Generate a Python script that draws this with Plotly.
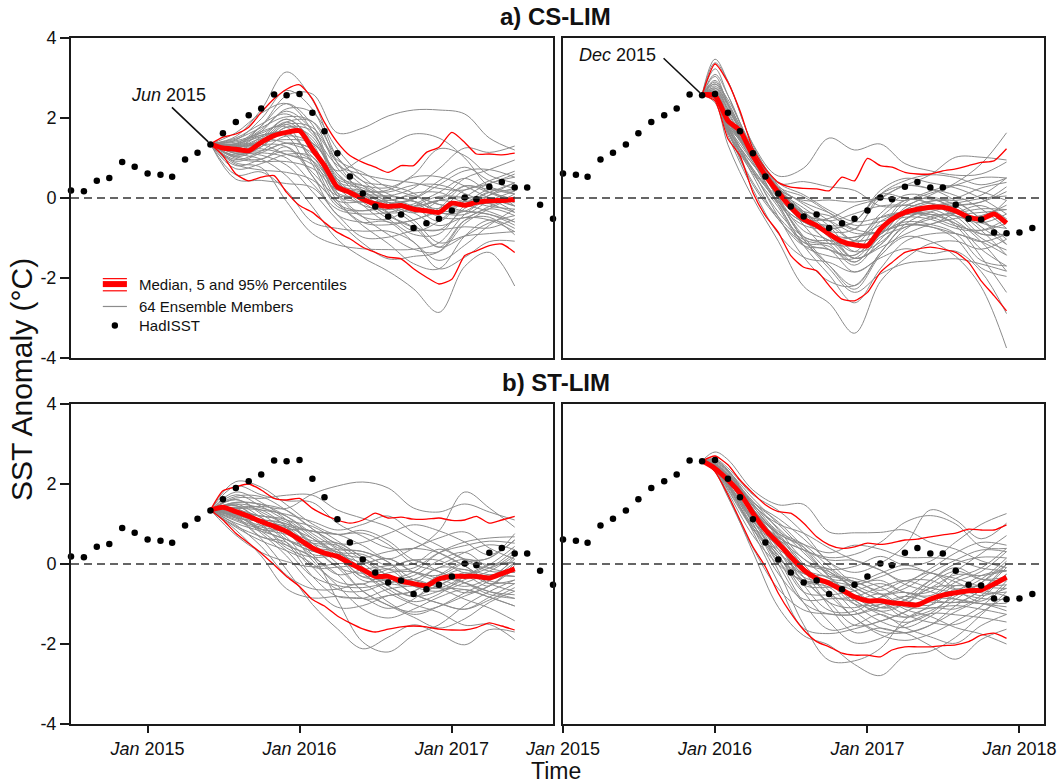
import pandas as pd
import plotly.graph_objects as go

W, H = 1061, 784
FONT = "Liberation Sans, Arial, Helvetica, sans-serif"
GRAY = "rgb(140,140,140)"
RED = "#ff0000"
INK = "#1a1a1a"

# ---------------------------------------------------------------- observations
# HadISST monthly SST anomaly (degC), Jul 2014 .. Feb 2018
hadisst_start = "2014-07-01"
hadisst = [0.19, 0.17, 0.43, 0.50, 0.90, 0.78, 0.61, 0.58, 0.53, 0.96, 1.13, 1.34,
           1.62, 1.90, 2.07, 2.24, 2.59, 2.57, 2.60, 2.13, 1.67, 1.12, 0.54, 0.11,
           -0.21, -0.46, -0.41, -0.75, -0.63, -0.52, -0.31, 0.01, -0.03, 0.28, 0.40, 0.26,
           0.26, -0.17, -0.52, -0.54, -0.86, -0.88, -0.86, -0.75]

# forecast initial months and lead times (months)
init_jun = "2015-06-01"
init_dec = "2015-12-01"
leads_monthly = list(range(25))
member_leads_jun = [0, 2, 4, 6, 8, 10, 12, 14, 16, 18, 20, 22, 24]
member_leads_dec = [0, 1, 2, 4, 6, 8, 10, 12, 14, 16, 18, 20, 22, 24]

# ---------------------------------------------------------------- a) CS-LIM, Jun 2015
cs_jun_median = [1.35, 1.25, 1.22, 1.18, 1.39, 1.56, 1.64, 1.68, 1.22, 0.81, 0.27, 0.14, -0.03,
                 -0.15, -0.21, -0.19, -0.28, -0.32, -0.36, -0.13, -0.18, -0.11, -0.07, -0.06, -0.04]
cs_jun_p95 = [1.35, 1.52, 1.60, 1.77, 2.14, 2.48, 2.72, 2.83, 2.48, 1.89, 1.39, 1.06, 0.89,
              0.77, 0.64, 0.81, 0.81, 1.14, 1.27, 1.64, 1.39, 1.10, 1.10, 1.08, 1.12]
cs_jun_p05 = [1.35, 1.06, 0.60, 0.43, 0.52, 0.56, 0.14, -0.19, -0.36, -0.61, -0.86, -1.02, -1.23,
              -1.36, -1.48, -1.52, -1.77, -1.98, -2.15, -2.03, -1.44, -1.32, -1.19, -1.15, -1.36]
cs_jun_members = [
    [1.35, 1.11, 0.97, 0.55, -0.22, -1.04, -1.49, -1.83, -2.27, -2.86, -1.71, -1.36, -2.20],
    [1.35, 1.31, 1.80, 2.56, 2.60, 1.63, 1.75, 2.05, 2.20, 2.20, 2.10, 1.50, 1.20],
    [1.35, 0.84, 0.70, 0.64, 0.45, -0.14, -0.69, -1.14, -1.64, -1.77, -0.95, -0.55, -0.76],
    [1.35, 1.50, 1.85, 2.10, 1.60, 0.82, 0.59, 0.46, 0.38, 0.24, 0.20, 0.43, 0.67],
    [1.35, 1.22, 1.23, 1.09, 0.84, 0.27, 0.14, -0.16, -0.55, -1.12, -0.95, -0.89, -0.84],
    [1.35, 1.03, 1.28, 1.77, 1.68, 0.88, 0.31, -0.11, -0.37, -0.06, 0.49, 0.71, 0.95],
    [1.35, 1.63, 2.12, 2.36, 1.68, 0.41, -0.18, -0.60, -0.55, -0.26, 0.30, 0.14, -0.04],
    [1.35, 0.58, 0.65, 0.18, -0.60, -0.76, -0.83, -0.83, -1.10, -1.77, -1.48, -1.09, -1.08],
    [1.35, 1.36, 1.53, 1.64, 0.93, -0.14, -0.32, -0.21, -0.02, 0.43, 0.77, 0.43, 0.24],
    [1.35, 0.92, 1.13, 1.37, 1.22, 0.47, 0.31, 0.26, 0.58, 1.23, 1.06, 0.57, 0.38],
    [1.35, 1.27, 1.66, 2.23, 2.14, 1.22, 0.53, 0.10, -0.08, -0.47, -0.49, -0.21, 0.03],
    [1.35, 1.15, 1.07, 0.82, 0.16, -0.55, -1.13, -1.52, -1.46, -1.34, -0.56, -0.27, -0.44],
    [1.35, 1.54, 2.21, 3.15, 2.45, 1.02, 0.42, 0.00, -0.21, -0.06, -0.18, -0.34, -0.60],
    [1.35, 0.73, 0.86, 1.09, 1.03, 0.06, -0.47, -0.52, -0.21, 0.04, 0.01, -0.14, 0.10],
    [1.35, 1.43, 1.62, 1.84, 1.30, 0.13, 0.03, 0.05, 0.25, 0.73, 1.25, 1.14, 1.30],
    [1.35, 1.18, 1.48, 1.97, 1.45, 0.68, 1.00, 1.30, 1.60, 1.50, 1.00, 0.29, 0.17],
    [1.35, 0.47, 0.44, 0.36, 0.26, -0.42, -0.98, -0.98, -0.82, -0.80, -0.72, -0.75, -0.52],
    [1.35, 1.29, 1.34, 1.28, 0.55, -0.42, -0.61, -0.60, -1.10, -1.56, -1.18, -0.68, -0.28],
    [1.35, 0.99, 0.91, 0.91, 0.74, 0.20, 0.08, -0.36, -0.82, -0.58, 0.01, 0.36, 0.52],
    [1.35, 1.45, 1.98, 2.69, 2.22, 0.88, 0.19, 0.20, 0.52, 0.53, 0.30, 0.00, -0.20],
    [1.35, 0.88, 0.76, -0.09, -0.89, -1.17, -1.27, -1.29, -1.28, -1.12, -0.41, -0.07, -0.36],
    [1.35, 1.34, 1.39, 1.46, 1.37, 0.61, -0.03, -0.44, -0.73, -1.23, -0.56, -0.48, -0.92],
    [1.35, 1.07, 1.39, 1.90, 1.91, 1.02, 0.42, 0.31, 0.12, -0.36, -0.33, 0.07, 0.38],
    [1.35, 1.24, 1.57, 1.55, 0.55, -0.07, -0.10, -0.06, 0.05, -0.16, -0.18, 0.14, -0.20],
    [1.35, 1.34, 1.71, 2.17, 1.68, 0.47, -0.03, -0.44, -0.73, -0.80, -0.26, 0.07, 0.24],
    [1.35, 1.11, 1.13, 1.00, 0.36, -0.28, -0.40, -0.36, -0.21, -0.06, 0.30, 0.21, 0.10],
    [1.35, 1.40, 1.57, 1.64, 1.03, 0.34, 0.19, 0.15, 0.32, 0.33, 0.11, -0.14, -0.36],
    [1.35, 0.96, 1.18, 1.55, 1.37, 0.61, 0.14, -0.21, -0.64, -1.23, -0.95, -0.62, -0.44],
    [1.35, 1.27, 1.39, 1.84, 1.76, 0.95, 0.64, 0.26, 0.05, -0.16, -0.33, -0.41, -0.60],
    [1.35, 1.18, 1.53, 1.97, 1.37, 0.13, -0.47, -0.91, -1.28, -1.34, -0.64, -0.27, 0.03],
    [1.35, 1.47, 1.76, 2.03, 1.91, 0.75, 0.19, -0.11, -0.02, 0.33, 0.68, 0.71, 0.52],
    [1.35, 0.81, 0.97, 1.18, 0.93, -0.07, -0.61, -0.67, -0.55, -0.36, -0.33, -0.41, -0.68],
    [1.35, 1.29, 1.66, 1.77, 0.84, -0.21, -0.32, -0.16, -0.08, -0.36, -0.41, -0.07, 0.17],
    [1.35, 1.07, 1.28, 1.77, 1.53, 0.41, 0.25, -0.06, 0.12, 0.14, -0.09, 0.14, 0.38],
    [1.35, 1.22, 1.18, 1.37, 1.22, 0.41, -0.10, -0.52, -0.91, -0.90, -0.18, 0.21, 0.10],
    [1.35, 1.36, 1.80, 2.36, 1.83, 0.54, 0.31, 0.00, -0.21, -0.58, -0.09, -0.21, -0.28],
    [1.35, 1.03, 0.97, 1.28, 0.64, 0.06, 0.08, 0.05, -0.08, -0.26, 0.20, 0.36, 0.60],
    [1.35, 1.24, 1.48, 1.37, 1.12, 0.27, -0.18, -0.29, -0.15, 0.14, 0.49, 0.14, -0.12],
    [1.35, 1.15, 1.44, 1.90, 1.30, 0.06, -0.10, -0.11, -0.37, -0.69, -0.49, -0.55, -0.84],
    [1.35, 1.31, 1.34, 1.09, 0.93, 0.27, 0.08, -0.36, -0.28, -0.06, 0.01, 0.00, -0.20],
]

# ---------------------------------------------------------------- a) CS-LIM, Dec 2015
cs_dec_median = [2.58, 2.56, 1.93, 1.68, 1.06, 0.56, 0.14, -0.23, -0.53, -0.69, -0.90, -1.09, -1.17,
                 -1.19, -0.78, -0.53, -0.36, -0.28, -0.23, -0.23, -0.32, -0.48, -0.53, -0.40, -0.63]
cs_dec_p95 = [2.58, 3.35, 2.89, 2.18, 1.23, 0.73, 0.39, 0.27, 0.24, 0.23, 0.18, 0.52, 0.43,
              0.99, 0.81, 0.77, 0.64, 0.60, 0.60, 0.68, 0.73, 0.81, 0.89, 0.93, 1.23]
cs_dec_p05 = [2.58, 2.43, 1.48, 1.06, 0.14, -0.44, -0.86, -1.44, -1.73, -1.82, -2.19, -2.53, -2.57,
              -2.36, -1.86, -1.61, -1.36, -1.28, -1.23, -1.28, -1.36, -1.61, -2.07, -2.44, -2.82]
cs_dec_members = [
    [2.58, 2.39, 1.33, 0.00, -1.08, -2.21, -2.63, -3.38, -2.09, -1.52, -1.14, -1.08, -1.28, -1.03],
    [2.58, 3.38, 2.92, 1.35, 0.55, 0.75, 1.50, 1.20, 1.35, 0.86, 0.68, 0.57, 0.60, 0.90],
    [2.58, 2.49, 1.68, 0.67, -0.47, -1.48, -2.08, -2.19, -1.37, -0.73, -0.72, -1.02, -1.75, -1.96],
    [2.58, 3.04, 2.34, 1.12, 0.23, -0.06, -0.05, -0.10, -0.01, -0.06, 0.12, 0.32, 0.51, 0.50],
    [2.58, 2.48, 1.66, 0.39, -0.47, -1.04, -1.14, -1.07, -0.49, -0.36, -0.47, -0.70, -0.81, -0.63],
    [2.58, 3.23, 2.57, 1.17, 0.19, -0.60, -0.77, -0.59, 0.09, 0.00, -0.13, -0.45, -1.00, -1.30],
    [2.58, 2.56, 1.93, 1.11, 0.22, -0.48, -1.14, -1.60, -0.91, -0.24, 0.07, 0.38, 0.85, 1.63],
    [2.58, 2.46, 1.57, 0.22, -0.89, -1.48, -1.61, -1.85, -1.50, -1.27, -1.39, -1.33, -1.84, -2.89],
    [2.58, 2.75, 2.34, 1.21, 0.26, -0.34, -0.90, -1.51, -1.17, -0.54, -0.23, -0.13, -0.01, 0.05],
    [2.58, 2.85, 2.46, 1.26, 0.38, 0.08, -0.31, -0.59, -0.49, -0.36, -0.41, -0.64, -1.28, -1.70],
    [2.58, 2.61, 1.99, 0.95, -0.10, -0.60, -0.70, -0.59, 0.19, 0.49, 0.38, 0.25, -0.01, -0.40],
    [2.58, 2.52, 1.79, 0.89, -0.16, -1.19, -1.92, -2.62, -1.77, -1.09, -0.90, -0.89, -1.09, -0.90],
    [2.58, 2.51, 1.74, 0.84, 0.14, -0.39, -0.83, -0.78, -0.01, 0.31, 0.58, 1.02, 1.02, 0.95],
    [2.58, 2.66, 2.05, 1.00, 0.17, -0.34, -0.83, -1.51, -1.17, -0.54, -0.35, -0.70, -1.47, -2.36],
    [2.58, 3.47, 2.92, 1.32, 0.31, -0.16, -0.57, -1.07, -0.91, -0.30, -0.08, 0.00, 0.25, 0.39],
    [2.58, 2.70, 2.22, 1.20, 0.37, 0.41, 0.28, 0.19, -0.20, -0.18, 0.02, -0.19, -0.62, -0.76],
    [2.58, 2.51, 1.66, 0.67, -0.10, -0.97, -1.68, -2.28, -1.44, -0.97, -1.08, -1.46, -2.22, -3.75],
    [2.58, 2.54, 1.68, 0.33, -0.53, -1.19, -1.29, -1.85, -1.44, -0.79, -0.47, -0.38, -0.27, -0.29],
    [2.58, 2.94, 2.40, 1.15, 0.02, -0.97, -1.06, -0.98, -0.85, -0.66, -0.72, -0.89, -1.09, -1.43],
    [2.58, 2.54, 1.88, 1.14, 0.28, 0.03, -0.37, -0.78, 0.09, 0.43, 0.58, 0.51, 0.33, 0.50],
    [2.58, 2.53, 1.82, 1.06, -0.04, -1.04, -1.76, -2.36, -1.90, -1.64, -1.57, -1.52, -1.65, -1.83],
    [2.58, 2.47, 1.63, 0.72, -0.16, -1.11, -1.29, -1.43, -0.78, -0.06, -0.13, -0.45, -0.53, -0.06],
    [2.58, 2.85, 2.28, 1.09, 0.02, -0.53, -0.51, -0.20, -0.01, 0.31, 0.23, -0.07, -0.53, -1.16],
    [2.58, 2.54, 1.88, 1.11, 0.14, -0.44, -0.57, -0.88, -0.85, -0.66, -0.66, -0.38, -0.19, -0.52],
    [2.58, 2.52, 1.79, 0.67, -0.35, -0.97, -1.14, -1.17, -0.49, -0.06, -0.03, -0.26, -0.72, -1.16],
    [2.58, 2.70, 2.11, 1.14, 0.25, -0.11, -0.37, -0.68, -0.59, -0.42, -0.41, -0.64, -0.90, -0.90],
    [2.58, 2.50, 1.71, 0.84, 0.14, -0.44, -0.98, -1.51, -1.24, -0.91, -0.66, -0.51, -0.44, -0.18],
    [2.58, 2.90, 2.34, 1.12, 0.16, -0.68, -1.29, -1.43, -0.78, -0.12, 0.17, 0.32, 0.16, -0.06],
    [2.58, 2.54, 1.88, 1.06, -0.04, -1.04, -1.68, -2.19, -1.37, -0.66, -0.35, -0.19, -0.10, 0.16],
    [2.58, 2.61, 1.99, 0.89, -0.16, -0.68, -0.77, -0.59, 0.09, 0.31, 0.23, 0.06, -0.27, -0.76],
    [2.58, 2.47, 1.63, 0.61, -0.23, -1.19, -1.45, -1.51, -0.91, -0.60, -0.66, -0.89, -1.56, -1.70],
    [2.58, 3.09, 2.57, 1.18, 0.22, -0.39, -0.57, -0.39, -0.20, -0.18, -0.23, -0.19, -0.10, 0.28],
    [2.58, 2.54, 1.85, 0.73, 0.02, -0.34, -0.44, -0.78, -0.85, -0.54, -0.23, -0.13, -0.53, -1.03],
    [2.58, 2.75, 2.16, 1.09, 0.02, -0.82, -1.06, -1.60, -0.98, -0.73, -0.53, -0.38, -0.81, -1.43],
    [2.58, 2.56, 1.93, 1.12, 0.19, -0.53, -1.06, -1.07, -0.39, 0.07, 0.02, -0.32, -0.90, -0.90],
    [2.58, 2.51, 1.77, 0.56, -0.53, -1.11, -1.21, -1.68, -1.04, -0.42, -0.13, -0.38, -0.36, -0.29],
    [2.58, 2.80, 2.22, 1.18, 0.20, -0.25, -0.70, -1.34, -1.11, -0.54, -0.29, -0.57, -1.09, -1.83],
    [2.58, 2.55, 1.90, 0.95, 0.19, -0.48, -0.90, -0.98, -0.68, -0.48, -0.53, -0.76, -0.81, -0.52],
    [2.58, 2.66, 2.05, 1.00, -0.10, -0.60, -0.70, -1.07, -0.91, -0.30, -0.08, -0.06, 0.07, 0.50],
    [2.58, 2.53, 1.82, 1.08, 0.23, -0.39, -0.90, -1.34, -0.59, -0.36, -0.41, -0.45, -0.62, -0.40],
]

# ---------------------------------------------------------------- b) ST-LIM, Jun 2015
st_jun_median = [1.35, 1.42, 1.31, 1.19, 1.06, 0.94, 0.81, 0.61, 0.40, 0.27, 0.19, 0.02, -0.14,
                 -0.31, -0.31, -0.43, -0.49, -0.54, -0.37, -0.31, -0.31, -0.31, -0.35, -0.24, -0.12]
st_jun_p95 = [1.35, 1.83, 1.93, 2.00, 1.85, 1.64, 1.60, 1.64, 1.39, 1.23, 1.10, 1.02, 1.10,
              1.27, 1.15, 1.17, 1.12, 1.12, 1.15, 1.09, 1.10, 1.19, 1.02, 1.10, 1.19]
st_jun_p05 = [1.35, 1.10, 0.77, 0.52, 0.27, -0.02, -0.31, -0.56, -0.89, -1.05, -1.30, -1.47, -1.62,
              -1.70, -1.63, -1.57, -1.55, -1.57, -1.63, -1.65, -1.65, -1.59, -1.47, -1.55, -1.65]
st_jun_members = [
    [1.35, 1.42, 1.44, 1.39, 1.75, 1.95, 2.05, 1.90, 1.40, 1.30, 1.50, 1.30, 1.10],
    [1.35, 1.18, 0.63, -0.14, -1.01, -1.62, -2.12, -1.83, -1.52, -1.75, -2.02, -1.64, -1.70],
    [1.35, 1.69, 1.68, 1.34, 0.88, 0.52, 0.54, 0.76, 0.98, 0.83, 0.55, 0.23, 0.60],
    [1.35, 0.92, 0.58, 0.33, 0.01, -0.54, -1.13, -1.35, -1.13, -0.83, -0.64, -0.83, -1.05],
    [1.35, 1.31, 1.20, 1.10, 0.64, 0.19, -0.41, -0.39, -0.20, 0.28, 0.55, 0.65, 0.68],
    [1.35, 1.50, 1.16, 0.67, -0.07, -0.63, -0.68, -0.47, -0.39, -0.60, -0.88, -1.10, -1.42],
    [1.35, 0.72, 0.29, 0.06, -0.07, 0.01, 0.01, 0.13, -0.20, -0.45, -0.72, -0.55, -0.12],
    [1.35, 1.95, 1.73, 1.58, 1.54, 1.02, 0.69, 0.40, 0.39, 0.83, 1.80, 1.40, 0.92],
    [1.35, 1.11, 0.92, 0.81, 0.58, 0.52, 0.16, -0.31, -0.75, -0.98, -1.13, -0.83, -0.49],
    [1.35, 1.61, 1.30, 0.95, 0.40, -0.08, -0.68, -1.03, -1.33, -1.60, -1.37, -0.96, -0.68],
    [1.35, 1.24, 0.77, 0.20, -0.54, -1.08, -1.04, -0.79, -0.68, -0.28, 0.03, -0.18, -0.21],
    [1.35, 1.39, 1.35, 1.24, 1.06, 0.85, 0.99, 1.20, 0.78, 0.46, 0.12, -0.10, 0.28],
    [1.35, 0.85, 0.20, -0.62, -0.85, -0.81, -0.86, -0.63, -0.55, -0.60, -0.31, -0.02, 0.44],
    [1.35, 1.80, 1.54, 1.10, 0.52, 0.36, 0.31, 0.05, -0.55, -0.68, -0.47, -0.27, -0.31],
    [1.35, 1.02, 0.82, 0.61, 0.32, 0.30, -0.23, -0.71, -1.01, -1.21, -1.53, -1.51, -1.89],
    [1.35, 1.35, 0.96, 0.47, 0.17, -0.90, -1.95, -2.20, -1.78, -1.52, -1.04, -0.69, -0.40],
    [1.35, 2.06, 1.92, 1.48, 1.00, 0.74, 0.84, 0.58, 0.10, 0.00, 0.29, 0.48, 0.36],
    [1.35, 1.21, 1.11, 1.00, 0.82, 0.74, 0.46, 0.13, 0.39, 0.65, 0.80, 0.40, 0.12],
    [1.35, 1.54, 1.49, 1.19, 0.70, 0.25, -0.32, -0.13, 0.10, -0.19, -0.47, -0.76, -0.86],
    [1.35, 0.98, 0.44, -0.28, -0.62, -0.63, -0.50, -0.95, -1.26, -1.06, -0.72, -0.42, 0.04],
    [1.35, 1.65, 1.64, 1.72, 1.72, 1.35, 1.14, 0.93, 0.59, 0.28, -0.05, -0.35, 0.20],
    [1.35, 1.15, 1.06, 0.91, 0.24, -0.26, -0.14, -0.04, 0.00, 0.37, 0.12, 0.15, 0.76],
    [1.35, 1.46, 1.06, 0.54, -0.31, -0.81, -0.86, -1.11, -0.88, -0.37, -0.14, -0.49, -0.68],
    [1.35, 1.28, 0.87, 0.86, 0.82, 0.47, -0.07, -0.55, -0.81, -0.52, -0.31, -0.55, 0.04],
    [1.35, 1.50, 1.40, 1.19, 0.76, 0.36, -0.14, -0.55, -0.81, -0.68, -0.39, -0.18, 0.20],
    [1.35, 1.21, 0.82, 0.33, -0.31, -0.54, -0.59, -0.47, -0.39, -0.09, 0.12, -0.02, 0.04],
    [1.35, 1.61, 1.25, 0.81, 0.24, 0.25, 0.16, 0.31, 0.39, 0.28, -0.05, -0.42, -0.49],
    [1.35, 1.08, 0.87, 0.74, 0.52, 0.47, 0.09, -0.31, -0.75, -0.98, -1.13, -0.90, -0.59],
    [1.35, 1.39, 1.06, 0.95, 0.82, 0.74, 0.77, 0.49, 0.00, -0.19, -0.47, -0.69, -0.77],
    [1.35, 1.28, 1.20, 1.05, 0.52, 0.01, -0.68, -1.03, -1.20, -1.06, -0.80, -0.55, -0.04],
    [1.35, 1.73, 1.44, 1.10, 0.94, 0.58, 0.16, -0.13, -0.10, 0.28, 0.46, 0.57, 0.52],
    [1.35, 0.95, 0.68, 0.47, 0.17, -0.26, -0.86, -0.79, -0.68, -0.37, -0.47, -0.69, -0.86],
    [1.35, 1.42, 1.35, 0.91, 0.09, -0.44, -0.50, -0.22, -0.20, -0.37, -0.56, -0.35, 0.12],
    [1.35, 1.18, 0.96, 0.91, 0.64, 0.30, 0.24, -0.04, 0.10, 0.09, -0.22, -0.10, 0.36],
    [1.35, 1.31, 0.87, 0.61, 0.40, 0.30, -0.23, -0.63, -0.94, -0.75, -0.31, -0.02, 0.04],
    [1.35, 1.54, 1.49, 1.34, 0.88, 0.41, 0.31, 0.05, -0.39, -0.52, -0.22, -0.49, -0.40],
    [1.35, 1.15, 0.68, 0.54, -0.07, -0.08, 0.01, 0.13, -0.20, -0.28, 0.03, 0.15, 0.60],
    [1.35, 1.35, 1.16, 0.61, 0.32, 0.19, -0.32, -0.39, -0.29, 0.09, 0.29, -0.10, -0.21],
    [1.35, 1.24, 1.11, 1.00, 0.46, -0.08, -0.23, -0.13, -0.55, -0.60, -0.64, -0.83, -1.05],
    [1.35, 1.46, 1.01, 0.40, 0.17, 0.19, 0.01, -0.47, -0.49, -0.09, -0.14, -0.27, -0.31],
]

# ---------------------------------------------------------------- b) ST-LIM, Dec 2015
st_dec_median = [2.58, 2.39, 2.10, 1.77, 1.27, 0.85, 0.52, 0.18, -0.15, -0.36, -0.48, -0.65, -0.82,
                 -0.92, -0.92, -0.97, -1.00, -1.02, -0.88, -0.78, -0.72, -0.67, -0.65, -0.50, -0.33]
st_dec_p95 = [2.58, 2.70, 2.48, 2.10, 1.77, 1.48, 1.31, 1.27, 1.02, 0.68, 0.48, 0.39, 0.43,
              0.52, 0.49, 0.53, 0.60, 0.62, 0.68, 0.73, 0.77, 0.87, 0.85, 0.85, 0.98]
st_dec_p05 = [2.58, 2.31, 1.73, 1.10, 0.43, -0.07, -0.73, -1.23, -1.65, -1.94, -2.07, -2.23, -2.28,
              -2.28, -2.32, -2.15, -2.07, -2.07, -2.07, -2.04, -2.02, -1.94, -1.78, -1.73, -1.86]
st_dec_members = [
    [2.58, 2.80, 2.61, 1.85, 1.48, 1.49, 0.80, 0.78, 0.79, 0.85, 0.54, 0.37, 0.08, -0.09],
    [2.58, 2.31, 1.72, 0.30, -1.08, -1.79, -2.03, -2.51, -2.79, -2.30, -2.18, -1.83, -1.27, -0.70],
    [2.58, 2.56, 2.31, 1.48, 1.00, 0.77, 0.40, 0.09, -0.15, -0.42, -0.12, 0.28, 0.54, 0.47],
    [2.58, 2.34, 1.88, 0.91, 0.22, -0.70, -1.45, -1.97, -1.86, -1.52, -1.24, -1.27, -1.34, -1.45],
    [2.58, 2.58, 2.33, 1.64, 1.00, 0.35, -0.31, -0.91, -1.18, -1.00, -0.50, -0.18, -0.38, -0.33],
    [2.58, 2.32, 1.79, 0.71, -0.01, -0.42, -0.42, -1.00, -1.43, -1.59, -1.31, -0.88, -0.47, 0.07],
    [2.58, 2.39, 2.10, 1.12, 0.14, -0.24, -0.31, -0.44, -0.75, -1.13, -1.31, -1.59, -1.75, -2.00],
    [2.58, 2.63, 2.40, 1.73, 1.34, 0.77, 0.05, -0.21, 0.02, 0.46, 1.35, 1.10, 0.63, 1.02],
    [2.58, 2.37, 2.01, 0.91, -0.24, -0.88, -0.87, -0.82, -0.58, -0.42, -0.60, -0.72, -0.86, -0.89],
    [2.58, 2.36, 1.97, 0.81, -0.47, -1.61, -1.74, -1.62, -1.43, -1.20, -0.88, -0.45, -0.19, 0.31],
    [2.58, 2.39, 2.08, 1.33, 0.71, -0.08, -0.77, -1.35, -1.77, -1.91, -1.75, -1.43, -1.06, -0.52],
    [2.58, 2.48, 2.22, 1.36, 0.76, 0.49, 0.28, 0.47, 0.37, 0.17, 0.16, 0.10, -0.10, -0.17],
    [2.58, 2.52, 2.26, 1.39, 0.52, -0.42, -0.58, -1.18, -1.60, -1.72, -2.04, -2.38, -1.89, -1.63],
    [2.58, 2.38, 2.06, 1.30, 0.37, -0.52, -0.58, -0.52, -0.41, -0.71, -0.69, -0.18, 0.26, 0.71],
    [2.58, 2.30, 1.67, 0.40, -0.62, -1.15, -1.25, -1.26, -1.01, -0.81, -0.95, -0.96, -0.99, -1.17],
    [2.58, 2.38, 2.03, 1.01, -0.16, -1.52, -2.41, -2.42, -2.11, -1.39, -1.10, -1.12, -0.79, -0.25],
    [2.58, 2.50, 2.24, 1.57, 0.86, 0.13, -0.13, -0.06, 0.19, -0.03, 0.07, 0.55, 0.99, 1.26],
    [2.58, 2.45, 2.17, 1.54, 1.14, 0.63, 0.05, -0.44, -0.23, -0.03, -0.22, -0.36, -0.56, -0.61],
    [2.58, 2.35, 1.92, 0.96, 0.37, -0.01, -0.13, -0.67, -1.09, -0.90, -0.41, 0.01, 0.17, 0.15],
    [2.58, 2.43, 2.15, 1.22, 0.14, -0.97, -1.64, -1.53, -1.26, -1.59, -1.82, -1.98, -1.54, -1.26],
    [2.58, 2.47, 2.19, 1.27, 0.66, 0.35, 0.16, 0.24, 0.54, 1.04, 1.21, 1.00, 0.44, 0.39],
    [2.58, 2.60, 2.35, 1.45, 0.76, 0.42, -0.19, -0.59, -0.92, -1.33, -1.03, -0.54, -0.65, -0.80],
    [2.58, 2.36, 1.97, 1.17, 0.62, -0.15, -1.06, -1.71, -1.60, -1.72, -1.53, -1.04, -0.65, -0.01],
    [2.58, 2.43, 2.15, 1.12, 0.52, -0.33, -0.96, -1.09, -0.83, -0.51, -0.22, -0.63, -0.93, -0.42],
    [2.58, 2.48, 2.22, 1.48, 0.90, 0.28, -0.31, -0.82, -1.18, -1.33, -1.17, -0.80, -0.47, -0.01],
    [2.58, 2.38, 2.03, 1.01, -0.01, -0.97, -1.25, -1.26, -1.09, -0.90, -0.60, -0.27, -0.29, -0.17],
    [2.58, 2.54, 2.29, 1.39, 0.52, -0.33, -0.42, -0.52, -0.32, -0.12, -0.22, -0.45, -0.72, -0.70],
    [2.58, 2.36, 1.94, 1.07, 0.44, -0.01, -0.19, -0.59, -0.92, -1.26, -1.46, -1.51, -1.20, -0.80],
    [2.58, 2.43, 2.15, 1.27, 0.66, 0.35, 0.10, 0.09, -0.15, -0.51, -0.69, -0.88, -0.99, -0.98],
    [2.58, 2.39, 2.08, 1.36, 0.76, -0.01, -0.67, -1.35, -1.69, -1.72, -1.53, -1.19, -0.86, -0.25],
    [2.58, 2.60, 2.35, 1.51, 0.81, 0.49, -0.07, -0.52, -0.75, -0.61, -0.22, 0.10, 0.35, 0.31],
    [2.58, 2.34, 1.85, 0.86, 0.14, -0.42, -0.96, -1.53, -1.43, -1.20, -0.88, -0.88, -0.99, -1.07],
    [2.58, 2.45, 2.17, 1.45, 0.62, -0.52, -1.16, -1.18, -0.83, -0.71, -0.88, -0.96, -0.65, -0.09],
    [2.58, 2.37, 2.01, 1.17, 0.62, 0.13, -0.36, -0.44, -0.66, -0.42, -0.41, -0.63, -0.38, 0.15],
    [2.58, 2.39, 2.10, 1.07, 0.29, -0.15, -0.36, -0.91, -1.26, -1.46, -1.24, -0.72, -0.29, -0.17],
    [2.58, 2.50, 2.24, 1.54, 1.05, 0.42, -0.25, -0.36, -0.58, -0.90, -1.03, -0.63, -0.79, -0.61],
    [2.58, 2.37, 1.99, 0.86, 0.22, -0.70, -0.77, -0.67, -0.49, -0.71, -0.79, -0.36, -0.10, 0.39],
    [2.58, 2.41, 2.12, 1.33, 0.29, -0.24, -0.48, -1.00, -1.01, -0.81, -0.41, -0.09, -0.38, -0.42],
    [2.58, 2.38, 2.06, 1.30, 0.71, -0.08, -0.77, -0.91, -0.75, -1.07, -1.10, -1.04, -1.13, -1.26],
    [2.58, 2.47, 2.19, 1.22, 0.06, -0.42, -0.48, -0.67, -1.09, -1.00, -0.60, -0.54, -0.56, -0.52],
]

# ---------------------------------------------------------------- axes / ticks
year_ticks_left = ["2015-01-01", "2016-01-01", "2017-01-01"]
year_ticks_right = ["2015-01-01", "2016-01-01", "2017-01-01", "2018-01-01"]
range_left = ["2014-07-01", "2017-09-01"]
range_right = ["2015-01-01", "2018-03-01"]
y_ticks = [-4, -2, 0, 2, 4]
y_ticktext = ["-4", "-2", "0", "2", "4"]


def month_dates(start, leads):
    base = pd.Timestamp(start)
    return [(base + pd.DateOffset(months=m)).strftime("%Y-%m-%d") for m in leads]


hadisst_dates = month_dates(hadisst_start, range(len(hadisst)))
obs = pd.DataFrame({"date": pd.to_datetime(hadisst_dates), "sst": hadisst})

panels = [
    dict(xa="x", ya="y", init=init_jun, mleads=member_leads_jun, members=cs_jun_members,
         med=cs_jun_median, p05=cs_jun_p05, p95=cs_jun_p95, rng=range_left),
    dict(xa="x2", ya="y2", init=init_dec, mleads=member_leads_dec, members=cs_dec_members,
         med=cs_dec_median, p05=cs_dec_p05, p95=cs_dec_p95, rng=range_right),
    dict(xa="x3", ya="y3", init=init_jun, mleads=member_leads_jun, members=st_jun_members,
         med=st_jun_median, p05=st_jun_p05, p95=st_jun_p95, rng=range_left),
    dict(xa="x4", ya="y4", init=init_dec, mleads=member_leads_dec, members=st_dec_members,
         med=st_dec_median, p05=st_dec_p05, p95=st_dec_p95, rng=range_right),
]

fig = go.Figure()
for p in panels:
    mdates = month_dates(p["init"], p["mleads"])
    ldates = month_dates(p["init"], leads_monthly)
    common = dict(xaxis=p["xa"], yaxis=p["ya"], hoverinfo="skip", showlegend=False)
    for m in p["members"]:
        fig.add_trace(go.Scatter(x=mdates, y=m, mode="lines",
                                 line=dict(color=GRAY, width=1, shape="spline", smoothing=1.0),
                                 **common))
    for band in (p["p05"], p["p95"]):
        fig.add_trace(go.Scatter(x=ldates, y=band, mode="lines",
                                 line=dict(color=RED, width=1.3, shape="spline", smoothing=0.6),
                                 **common))
    fig.add_trace(go.Scatter(x=ldates, y=p["med"], mode="lines",
                             line=dict(color=RED, width=5, shape="spline", smoothing=0.6),
                             **common))
    sel = obs[(obs["date"] >= pd.Timestamp(p["rng"][0])) & (obs["date"] <= pd.Timestamp(p["rng"][1]))]
    fig.add_trace(go.Scatter(x=sel["date"].dt.strftime("%Y-%m-%d"), y=sel["sst"], mode="markers",
                             marker=dict(color="black", size=6.5), cliponaxis=False, **common))

# panel placement (paper fractions)
left_dom = [71 / W, 553 / W]
right_dom = [563 / W, 1044 / W]
top_dom = [1 - 358 / H, 1 - 38 / H]
bot_dom = [1 - 724 / H, 1 - 404 / H]


def xax(domain, rng, ticks, anchor, show):
    return dict(domain=domain, anchor=anchor, type="date", range=rng, automargin=False,
                showline=True, linewidth=2, linecolor=INK, mirror=True,
                showgrid=False, zeroline=False,
                ticks="outside" if show else "", ticklen=7, tickwidth=1.5, tickcolor=INK,
                tickmode="array", tickvals=ticks,
                ticktext=["<i>Jan</i> " + t[:4] for t in ticks],
                showticklabels=show, tickfont=dict(family=FONT, size=18, color="#111"))


def yax(domain, anchor, show):
    return dict(domain=domain, anchor=anchor, range=[-4, 4], automargin=False,
                showline=True, linewidth=2, linecolor=INK, mirror=True,
                showgrid=False, zeroline=False,
                ticks="outside" if show else "", ticklen=9, tickwidth=1.5, tickcolor=INK,
                tickmode="array", tickvals=y_ticks, ticktext=y_ticktext,
                showticklabels=show, tickfont=dict(family=FONT, size=18, color="#111"))


shapes = []
for xa, ya in (("x", "y"), ("x2", "y2"), ("x3", "y3"), ("x4", "y4")):
    shapes.append(dict(type="line", xref=f"{xa} domain", yref=ya, x0=0, x1=1, y0=0, y1=0,
                       line=dict(color="#333", width=1.3, dash="8px,5px"), layer="above"))

# legend drawn inside the upper-left panel
lx0, lx1 = 0.066, 0.116
for yy, wd in ((0.248, 1.2), (0.231, 6), (0.210, 1.2)):
    shapes.append(dict(type="line", xref="x domain", yref="y domain", x0=lx0, x1=lx1, y0=yy, y1=yy,
                       line=dict(color=RED, width=wd)))
shapes.append(dict(type="line", xref="x domain", yref="y domain", x0=lx0, x1=lx1, y0=0.161, y1=0.161,
                   line=dict(color=GRAY, width=1.2)))
shapes.append(dict(type="circle", xref="x domain", yref="y domain", xsizemode="pixel", ysizemode="pixel",
                   xanchor=0.091, yanchor=0.1016, x0=-3.2, x1=3.2, y0=-3.2, y1=3.2,
                   fillcolor="black", line=dict(color="black", width=0)))

legend_items = [("Median, 5 and 95% Percentiles", 0.231),
                ("64 Ensemble Members", 0.1625),
                ("HadISST", 0.103)]

annotations = []
for txt, yy in legend_items:
    annotations.append(dict(text=txt, xref="x domain", yref="y domain", x=0.137, y=yy,
                            xanchor="left", yanchor="middle", showarrow=False,
                            font=dict(family=FONT, size=15, color="#111")))

# initial-month callouts
for xa, ya, d0, v0, label, dx, dy in (("x", "y", init_jun, cs_jun_median[0], "<i>Jun</i> 2015", -42, 49),
                                      ("x2", "y2", init_dec, cs_dec_median[0], "<i>Dec</i> 2015", -85, 40)):
    annotations.append(dict(x=d0, y=v0, xref=xa, yref=ya, text="", showarrow=True, arrowhead=0,
                            arrowwidth=1.6, arrowcolor="#111", ax=-40, ay=-38, standoff=3))
    annotations.append(dict(x=d0, y=v0, xref=xa, yref=ya, text=label, showarrow=False,
                            xshift=dx, yshift=dy, font=dict(family=FONT, size=18, color="#111")))

# titles
annotations += [
    dict(text="<b>a) CS-LIM</b>", xref="paper", yref="paper", x=555.5 / W, y=1 - 16 / H,
         xanchor="center", yanchor="middle", showarrow=False, font=dict(family=FONT, size=24, color="#111")),
    dict(text="<b>b) ST-LIM</b>", xref="paper", yref="paper", x=555.5 / W, y=1 - 383 / H,
         xanchor="center", yanchor="middle", showarrow=False, font=dict(family=FONT, size=24, color="#111")),
    dict(text="SST Anomaly (°C)", xref="paper", yref="paper", x=22 / W, y=1 - 380 / H, textangle=-90,
         xanchor="center", yanchor="middle", showarrow=False, font=dict(family=FONT, size=30, color="#111")),
    dict(text="Time", xref="paper", yref="paper", x=556 / W, y=1 - 771 / H,
         xanchor="center", yanchor="middle", showarrow=False, font=dict(family=FONT, size=23, color="#111")),
]

fig.update_layout(
    width=W, height=H, autosize=False,
    margin=dict(l=0, r=0, t=0, b=0, pad=0, autoexpand=False),
    paper_bgcolor="white", plot_bgcolor="white",
    font=dict(family=FONT, color="#111"),
    showlegend=False,
    xaxis=xax(left_dom, range_left, year_ticks_left, "y", False),
    yaxis=yax(top_dom, "x", True),
    xaxis2=xax(right_dom, range_right, year_ticks_right, "y2", False),
    yaxis2=yax(top_dom, "x2", False),
    xaxis3=xax(left_dom, range_left, year_ticks_left, "y3", True),
    yaxis3=yax(bot_dom, "x3", True),
    xaxis4=xax(right_dom, range_right, year_ticks_right, "y4", True),
    yaxis4=yax(bot_dom, "x4", False),
    shapes=shapes,
    annotations=annotations,
)

fig.write_html("out.html")
